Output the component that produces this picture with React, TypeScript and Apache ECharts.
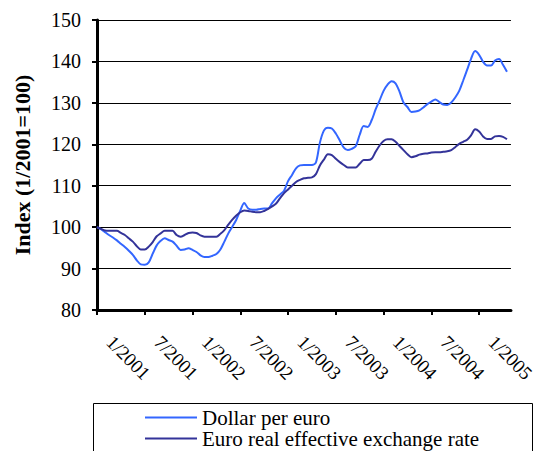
import React, { useEffect, useRef } from 'react';
import * as echarts from 'echarts';

// Half-month periods, in months since January 2001
const periods: number[] = Array.from({ length: 104 }, (_, i) => i * 0.5);

const tickMonths: number[] = [0, 6, 12, 18, 24, 30, 36, 42, 48];
const tickLabels: string[] = ['1/2001', '7/2001', '1/2002', '7/2002', '1/2003', '7/2003', '1/2004', '7/2004', '1/2005'];

const dollarPerEuro: number[] = [
  100, 99.5, 98.8, 98.1, 97.5, 96.8, 96.0, 95.2, 94.3, 93.3,
  92.0, 91.0, 90.9, 91.5, 93.6, 95.6, 96.7, 97.3, 96.9, 96.5,
  95.5, 94.5, 94.6, 94.9, 94.5, 94.0, 93.2, 92.8, 92.8, 93.1,
  93.5, 94.6, 96.5, 98.5, 100.1, 101.8, 104.0, 105.8, 104.5, 104.2,
  104.2, 104.4, 104.5, 104.5, 105.8, 107.0, 107.9, 108.8, 111.1, 112.6,
  114.2, 114.9, 115.0, 115.0, 115.0, 115.6, 120.4, 123.3, 124.0, 123.8,
  122.6, 120.9, 119.2, 118.6, 118.9, 119.5, 122.3, 124.4, 124.2, 125.8,
  128.4, 130.6, 132.9, 134.4, 135.2, 134.7, 132.7, 130.1, 129.0, 127.8,
  127.9, 128.2, 128.9, 129.7, 130.3, 130.8, 130.2, 129.6, 129.5, 130.1,
  131.3, 132.9, 135.4, 138.0, 140.7, 142.5, 141.6, 139.9, 139.0, 139.0,
  140.2, 140.6, 139.2, 137.5,
];

const euroRealEffective: number[] = [
  100, 99.6, 99.2, 99.1, 99.1, 99.1, 98.6, 98.1, 97.3, 96.5,
  95.4, 94.6, 94.6, 95.3, 96.4, 97.8, 98.5, 99.1, 99.1, 99.1,
  98.1, 97.7, 98.1, 98.6, 98.7, 98.6, 98.0, 97.7, 97.7, 97.7,
  97.7, 98.4, 99.3, 100.6, 101.8, 102.8, 103.6, 104.0, 103.9, 103.7,
  103.6, 103.6, 103.9, 104.4, 105.0, 105.7, 107.0, 108.2, 109.1, 110.0,
  110.9, 111.4, 111.8, 111.9, 112.0, 112.8, 114.9, 116.3, 117.6, 117.4,
  116.5, 115.7, 115.0, 114.4, 114.4, 114.4, 115.3, 116.2, 116.2, 116.5,
  118.2, 119.7, 120.8, 121.2, 121.2, 120.6, 119.6, 118.6, 117.6, 116.9,
  117.1, 117.5, 117.7, 117.8, 118.0, 118.1, 118.1, 118.2, 118.3, 118.6,
  119.3, 120.1, 120.6, 121.1, 122.2, 123.6, 123.1, 121.9, 121.3, 121.3,
  121.9, 122.0, 121.8, 121.2,
];

const seriesNames: string[] = ['Dollar per euro', 'Euro real effective exchange rate'];

const FONT = 'Liberation Serif';
const LABEL_SHIFT = 1.6;

export default function App() {
  const ref = useRef<HTMLDivElement>(null);

  useEffect(() => {
    if (!ref.current) return;
    const chart = echarts.init(ref.current, undefined, { renderer: 'svg' });
    const labelPos = tickMonths.map((m) => m + LABEL_SHIFT);
    chart.setOption({
      animation: false,
      textStyle: { fontFamily: FONT, color: '#000' },
      grid: { left: 97, right: 23, top: 20, bottom: 141 },
      xAxis: {
        type: 'value',
        min: 0,
        max: 52,
        axisLine: { show: true, onZero: false, lineStyle: { color: '#000', width: 3 } },
        axisTick: { show: true, customValues: tickMonths, length: 5, lineStyle: { color: '#000', width: 2 } },
        axisLabel: {
          customValues: labelPos,
          rotate: -45,
          margin: 29,
          fontSize: 19,
          fontFamily: FONT,
          color: '#000',
          formatter: (v: number) => {
            const idx = Math.round((v - LABEL_SHIFT) / 6);
            return tickLabels[idx] ?? '';
          },
        },
        splitLine: { show: false },
      },
      yAxis: {
        type: 'value',
        min: 80,
        max: 150,
        interval: 10,
        name: 'Index (1/2001=100)',
        nameLocation: 'middle',
        nameGap: 64,
        nameRotate: 90,
        nameTextStyle: { fontSize: 22, fontWeight: 'bold', fontFamily: FONT, color: '#000' },
        axisLine: { show: true, lineStyle: { color: '#000', width: 3 } },
        axisTick: { show: true, length: 5, lineStyle: { color: '#000', width: 2 } },
        axisLabel: { fontSize: 20, margin: 16, fontFamily: FONT, color: '#000' },
        splitLine: { show: true, lineStyle: { color: '#000', width: 1 } },
      },
      legend: {
        orient: 'vertical',
        left: 93,
        top: 403,
        width: 440,
        height: 120,
        padding: [4, 0, 0, 52],
        itemWidth: 52,
        itemHeight: 18,
        itemGap: 0,
        icon: 'path://M0,0H52V2H0Z',
        textStyle: { fontSize: 21, fontFamily: FONT, color: '#000', lineHeight: 18 },
        data: seriesNames,
      },
      graphic: [
        {
          type: 'rect',
          shape: { x: 93.5, y: 403.5, width: 439, height: 100 },
          style: { fill: 'none', stroke: '#000', lineWidth: 1 },
          z: 10,
        },
      ],
      series: [
        {
          name: seriesNames[0],
          type: 'line',
          symbol: 'none',
          smooth: 0.3,
          lineStyle: { color: '#3366FF', width: 2 },
          itemStyle: { color: '#3366FF' },
          data: periods.map((p, i) => [p, dollarPerEuro[i]]),
        },
        {
          name: seriesNames[1],
          type: 'line',
          symbol: 'none',
          smooth: 0.3,
          lineStyle: { color: '#333399', width: 2 },
          itemStyle: { color: '#333399' },
          data: periods.map((p, i) => [p, euroRealEffective[i]]),
        },
      ],
    });
    return () => chart.dispose();
  }, []);

  return <div ref={ref} style={{ position: 'absolute', left: 0, top: 0, width: 538, height: 451 }} />;
}
